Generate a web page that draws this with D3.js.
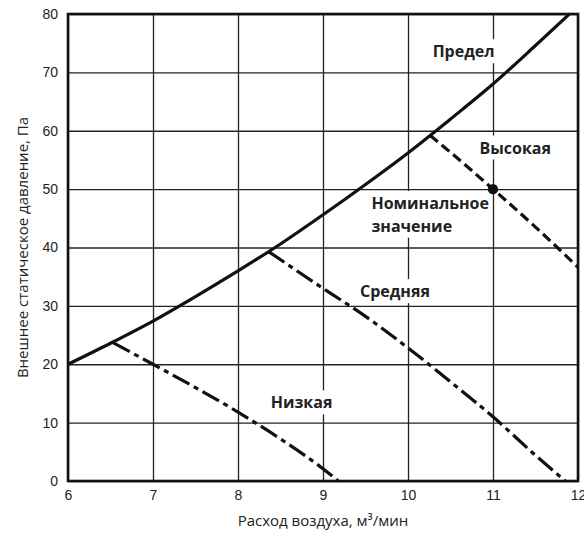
<!DOCTYPE html>
<html>
<head>
<meta charset="utf-8">
<script src="https://cdn.jsdelivr.net/npm/d3@7"></script>
<style>
  html, body { margin: 0; padding: 0; background: #fff; }
  svg { display: block; font-family: "Open Sans", "DejaVu Sans", sans-serif; }
</style>
</head>
<body>
<svg id="chart" width="584" height="533"></svg>
<script>
// Fan operating range: static pressure vs. airflow
const xTicks = [6, 7, 8, 9, 10, 11, 12];
const yTicks = [0, 10, 20, 30, 40, 50, 60, 70, 80];

// Upper limit curve
const limitX = [6, 6.5, 7, 7.5, 8, 8.5, 9, 9.5, 10, 10.5, 11, 11.5, 11.9];
const limitY = [20, 23.6, 27.4, 31.6, 36, 40.6, 45.6, 50.8, 56.2, 62, 68, 74.6, 80];

// Fan speed curves
const lowX = [6.53, 7, 7.5, 8, 8.5, 9, 9.18];
const lowY = [23.7, 20, 16.0, 11.8, 7.2, 2.1, 0];
const midX = [8.36, 9, 9.5, 10, 10.5, 11, 11.5, 11.85];
const midY = [39.3, 33, 28.2, 22.8, 17, 11, 4.4, 0];
const highX = [10.26, 10.5, 11, 11.5, 12];
const highY = [59.2, 56.3, 50, 43.5, 36.6];

// Rated point
const ratedX = 11;
const ratedY = 50;

const xTitle = "Расход воздуха, м³/мин";
const yTitle = "Внешнее статическое давление, Па";

const svg = d3.select("#chart");
const W = 584, H = 533;
const margin = { top: 14, right: 6, bottom: 52, left: 68 };
const iw = W - margin.left - margin.right;
const ih = H - margin.top - margin.bottom;

const x = d3.scaleLinear().domain([6, 12]).range([0, iw]);
const y = d3.scaleLinear().domain([0, 80]).range([ih, 0]);

const g = svg.append("g").attr("transform", `translate(${margin.left},${margin.top})`);

// grid + tick labels
const gx = g.append("g").attr("transform", `translate(0,${ih})`)
  .call(d3.axisBottom(x).tickValues(xTicks).tickSize(-ih).tickPadding(9).tickFormat(d3.format("d")));
const gy = g.append("g")
  .call(d3.axisLeft(y).tickValues(yTicks).tickSize(-iw).tickPadding(10).tickFormat(d3.format("d")));
[gx, gy].forEach(a => {
  a.select(".domain").remove();
  a.selectAll(".tick line").attr("stroke", "#222").attr("stroke-width", 1.3);
  a.selectAll(".tick text").attr("fill", "#222").style("font-size", "14px");
});

// frame
g.append("rect").attr("x", 0).attr("y", 0).attr("width", iw).attr("height", ih)
  .attr("fill", "none").attr("stroke", "#111").attr("stroke-width", 2.6);

const zip = (xs, ys) => xs.map((v, i) => [v, ys[i]]);
const line = d3.line().x(d => x(d[0])).y(d => y(d[1])).curve(d3.curveMonotoneX);

const curves = [
  { pts: zip(limitX, limitY), dash: null },
  { pts: zip(highX, highY), dash: "10,5" },
  { pts: zip(midX, midY), dash: "19,5,5,5" },
  { pts: zip(lowX, lowY), dash: "19,5,5,5" }
];

// labels with white backing boxes
const labels = [
  { lines: ["Предел"], x: 10.29, y: 72.6 },
  { lines: ["Высокая"], x: 10.84, y: 56.1 },
  { lines: ["Номинальное", "значение"], x: 9.57, y: 46.6 },
  { lines: ["Средняя"], x: 9.435, y: 31.5 },
  { lines: ["Низкая"], x: 8.385, y: 12.45 }
];

const lg = g.append("g");
labels.forEach(l => {
  const t = lg.append("text")
    .attr("x", x(l.x)).attr("y", y(l.y))
    .attr("fill", "#222").style("font-size", "16px").style("font-weight", "bold");
  l.lines.forEach((s, i) => {
    t.append("tspan").attr("x", x(l.x)).attr("dy", i === 0 ? 0 : 22.7).text(s);
  });
  const b = t.node().getBBox();
  lg.insert("rect", () => t.node())
    .attr("x", b.x - 3).attr("y", b.y - 1).attr("width", b.width + 6).attr("height", b.height + 2)
    .attr("fill", "#fff");
});

curves.forEach(c => {
  const p = g.append("path").attr("d", line(c.pts))
    .attr("fill", "none").attr("stroke", "#111").attr("stroke-width", 3.2);
  if (c.dash) p.attr("stroke-dasharray", c.dash);
});

g.append("circle").attr("cx", x(ratedX)).attr("cy", y(ratedY)).attr("r", 5.2).attr("fill", "#111");

// axis titles
svg.append("text").attr("x", margin.left + iw / 2).attr("y", 526)
  .attr("text-anchor", "middle").attr("fill", "#222").style("font-size", "15px").text(xTitle);
svg.append("text").attr("transform", `translate(28,${margin.top + ih / 2}) rotate(-90)`)
  .attr("text-anchor", "middle").attr("fill", "#222").style("font-size", "15px").text(yTitle);
</script>
</body>
</html>
